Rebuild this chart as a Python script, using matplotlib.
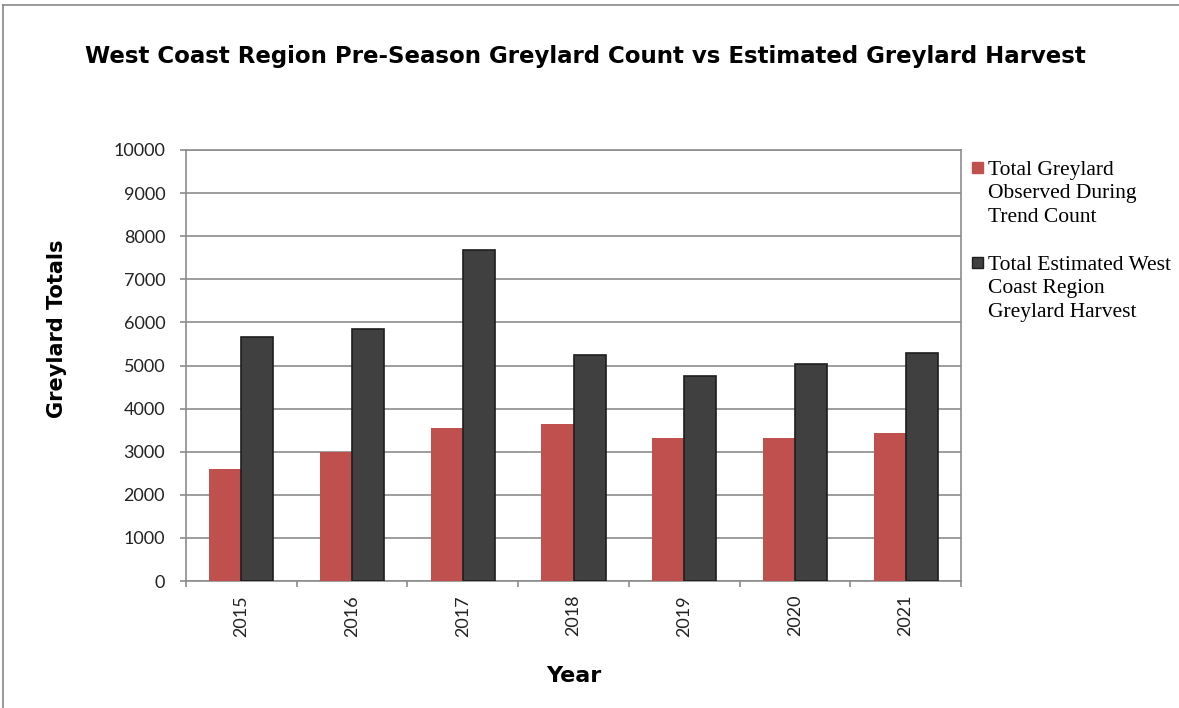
import numpy as np
import matplotlib
matplotlib.use("Agg")
import matplotlib.pyplot as plt
from matplotlib.patches import Rectangle
from matplotlib.lines import Line2D

years = ["2015", "2016", "2017", "2018", "2019", "2020", "2021"]
observed = [2590, 2990, 3550, 3640, 3310, 3310, 3430]
harvest = [5650, 5850, 7680, 5245, 4765, 5030, 5300]
series_labels = ["Total Greylard\nObserved During\nTrend Count",
                 "Total Estimated West\nCoast Region\nGreylard Harvest"]
series_colors = ["#C0504D", "#404040"]
yticks = [0, 1000, 2000, 3000, 4000, 5000, 6000, 7000, 8000, 9000, 10000]

W, H = 1179, 708
fig = plt.figure(figsize=(W / 100, H / 100), dpi=100)
ax = fig.add_axes([186 / W, 1 - 581 / H, (961 - 186) / W, (581 - 150) / H])

grey = "#8c8c8c"
x = np.arange(len(years))
bw = 0.29
ax.bar(x - bw / 2, observed, bw, color=series_colors[0], zorder=3)
ax.bar(x + bw / 2, harvest, bw, color=series_colors[1], edgecolor="#1e1e1e",
       linewidth=1.2, zorder=3)

ax.set_xlim(-0.5, len(years) - 0.5)
ax.set_ylim(0, 10000)
ax.set_yticks(yticks)
ax.set_yticklabels([str(v) for v in yticks])
ax.yaxis.grid(True, color=grey, linewidth=1.2, zorder=0)
for s in ax.spines.values():
    s.set_color(grey)
    s.set_linewidth(1.2)

ax.set_xticks(x)
ax.set_xticklabels(years, rotation=90)
ax.set_xticks(np.arange(-0.5, len(years)), minor=True)
ax.tick_params(axis="x", which="major", length=0, pad=10, labelsize=13)
ax.tick_params(axis="x", which="minor", length=4, width=1.2, color=grey)
ax.tick_params(axis="y", length=4, width=1.2, color=grey, pad=11, labelsize=13)
for lab in ax.get_xticklabels() + ax.get_yticklabels():
    lab.set_fontfamily("Lato")
    lab.set_color("#222222")

bold = dict(family="DejaVu Sans", weight="bold", color="black")
fig.text(585 / W, 1 - 57 / H, "West Coast Region Pre-Season Greylard Count vs Estimated Greylard Harvest",
         ha="center", va="center", fontsize=16.5, **bold)
fig.text(57 / W, 1 - 329 / H, "Greylard Totals", rotation=90, ha="center", va="center",
         fontsize=15, **bold)
fig.text(574 / W, 1 - 676 / H, "Year", ha="center", va="center", fontsize=16, **bold)

# legend drawn by hand so the swatch sits on the first text line
line_h = 23.5
entry_top = [175, 270]
for lbl, col, base in zip(series_labels, series_colors, entry_top):
    ec = col if col == series_colors[0] else "#1e1e1e"
    fig.add_artist(Rectangle((972 / W, 1 - (base - 2) / H), 11 / W, 11 / H,
                             transform=fig.transFigure, facecolor=col, edgecolor=ec,
                             linewidth=1.0))
    for i, line in enumerate(lbl.split("\n")):
        fig.text(988 / W, 1 - (base + i * line_h) / H, line, ha="left", va="baseline",
                 family="Liberation Serif", fontsize=15.5, color="black")

# outer chart border (partly cropped)
fig.add_artist(Line2D([3 / W, 1], [1 - 5 / H, 1 - 5 / H], transform=fig.transFigure,
                      color="#888888", linewidth=1.2))
fig.add_artist(Line2D([3 / W, 3 / W], [0, 1 - 5 / H], transform=fig.transFigure,
                      color="#888888", linewidth=1.2))

fig.savefig("out.png", dpi=100)
